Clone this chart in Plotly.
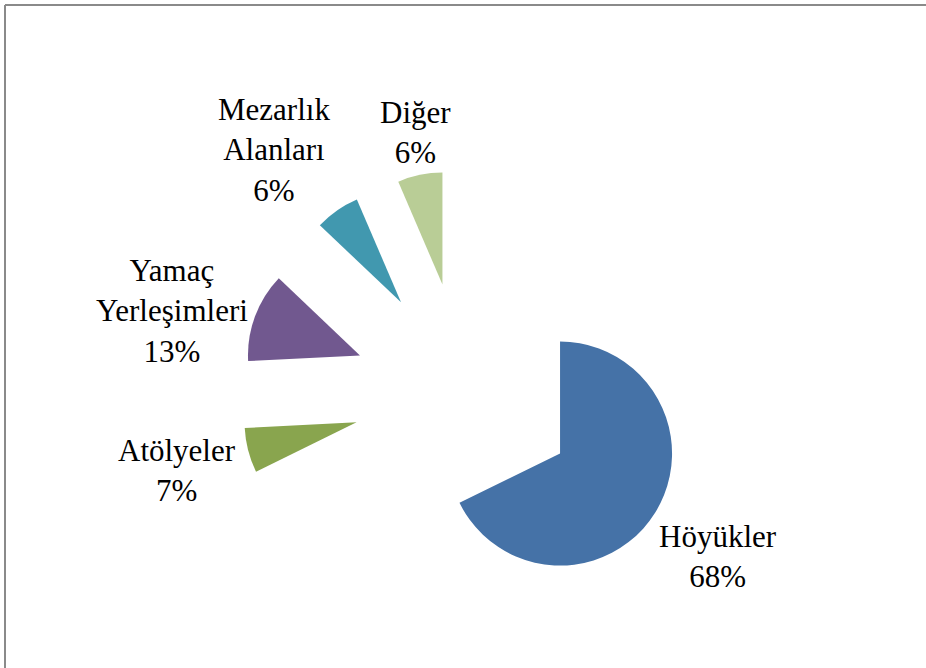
import plotly.graph_objects as go

# ---- data ----
categories = ["Höyükler", "Atölyeler", "Yamaç Yerleşimleri", "Mezarlık Alanları", "Diğer"]
counts = [21, 2, 4, 2, 2]
pct_labels = ["68%", "7%", "13%", "6%", "6%"]

# ---- styles ----
colors = ["#4572A7", "#89A54E", "#71588F", "#4198AF", "#B9CD96"]
W, H = 926, 668
PULL = 1.0
R_PX = 112.0               # slice radius in px
CX, CY = 465.0, 394.3      # pie centre in px (from top-left)
box = 2 * R_PX * (1 + PULL)
dom_x = [(CX - box / 2) / W, (CX + box / 2) / W]
dom_y = [1 - (CY + box / 2) / H, 1 - (CY - box / 2) / H]

# label block centres (px)
label_pos = [(717.5, 556), (176.5, 470), (172, 311), (274, 150), (415, 132)]

FONT = "Times New Roman, Liberation Serif, DejaVu Serif, serif"

fig = go.Figure(
    go.Pie(
        labels=categories,
        values=counts,
        sort=False,
        direction="clockwise",
        rotation=0,
        pull=[PULL] * len(counts),
        marker=dict(colors=colors, line=dict(width=0)),
        textinfo="none",
        hoverinfo="label+percent",
        domain=dict(x=dom_x, y=dom_y),
    )
)

annotations = []
for name, pct, (px, py) in zip(categories, pct_labels, label_pos):
    annotations.append(
        dict(
            text=name.replace(" ", "<br>") + "<br>" + pct,
            x=px / W, y=1 - py / H, xref="paper", yref="paper",
            xanchor="center", yanchor="middle", align="center",
            showarrow=False,
            font=dict(family=FONT, size=31, color="#000000"),
        )
    )

shapes = [
    dict(type="line", xref="paper", yref="paper", x0=5 / W, x1=5 / W, y0=-0.1, y1=1 - 5 / H,
         line=dict(color="#8a8a8a", width=2)),
    dict(type="line", xref="paper", yref="paper", x0=5 / W, x1=1.1, y0=1 - 5 / H, y1=1 - 5 / H,
         line=dict(color="#8a8a8a", width=2)),
]

fig.update_layout(
    width=W, height=H,
    margin=dict(l=0, r=0, t=0, b=0),
    paper_bgcolor="white", plot_bgcolor="white",
    showlegend=False,
    font=dict(family=FONT),
    annotations=annotations,
    shapes=shapes,
)

fig.write_html("out.html", config={"displayModeBar": False},
               post_script="document.body.style.margin='0';")
